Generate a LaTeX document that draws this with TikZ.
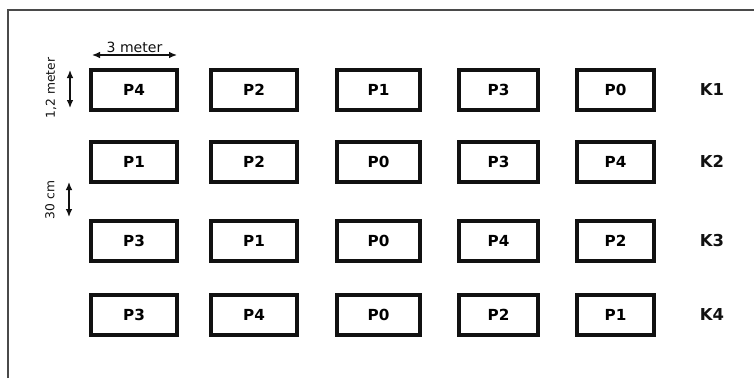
\documentclass[tikz,border=0pt]{standalone}
\usepackage{fontspec}
\setsansfont{DejaVu Sans}
\usetikzlibrary{arrows.meta,positioning}
\definecolor{ink}{HTML}{111111}
\definecolor{rim}{HTML}{4A4A4A}

\begin{document}
\begin{tikzpicture}[x=0.03cm,y=-0.03cm,>={Latex[length=2.4mm,width=2mm]},
  plot/.style={draw=ink,line width=0.12cm,minimum height=1.2cm,inner sep=0pt,font=\sffamily\bfseries\fontsize{13}{15}\selectfont},
  block/.style={text=ink,font=\sffamily\bfseries\fontsize{14}{16}\selectfont},
  dim/.style={<->,draw=ink,line width=1.1pt},
  dimtext/.style={text=ink,inner sep=1pt,font=\sffamily\fontsize{10.5}{12}\selectfont}]
\useasboundingbox (0,0) rectangle (754,378);
\draw[rim,line width=1.2pt] (8,378) -- (8,10) -- (754,10);
% plots, one row per block
\foreach \row/\y/\list in {1/89.5/{4,2,1,3,0},2/161.5/{1,2,0,3,4},3/240.5/{3,1,0,4,2},4/314.5/{3,4,0,2,1}}{
  \foreach \p [count=\c] in \list {
    \pgfmathsetmacro{\cx}{{134,254,378.5,498.5,615.5}[\c-1]}
    \pgfmathsetmacro{\cw}{{86,86,83,79,77}[\c-1]*0.03}
    \node[plot,minimum width=\cw cm] (p\row-\c) at (\cx,\y) {P\p};
  }
  \node[block] (k\row) at (712,\y) {K\row};
}
% dimensions
\coordinate (w1) at (92,55);
\coordinate (w2) at (177,55);
\draw[dim] (w1) -- node[dimtext,above,font=\sffamily\fontsize{12}{14}\selectfont] (wlab) {3 meter} (w2);
\coordinate (h1) at (70,70);
\coordinate (h2) at (70,108);
\draw[dim] (h1) -- (h2);
\node[dimtext,rotate=90] (hlab) at (51,88) {1,2 meter};
\coordinate (g1) at (69,182);
\coordinate (g2) at (69,217);
\draw[dim] (g1) -- (g2);
\node[dimtext,rotate=90] (glab) at (50,200) {30 cm};
\end{tikzpicture}
\end{document}
